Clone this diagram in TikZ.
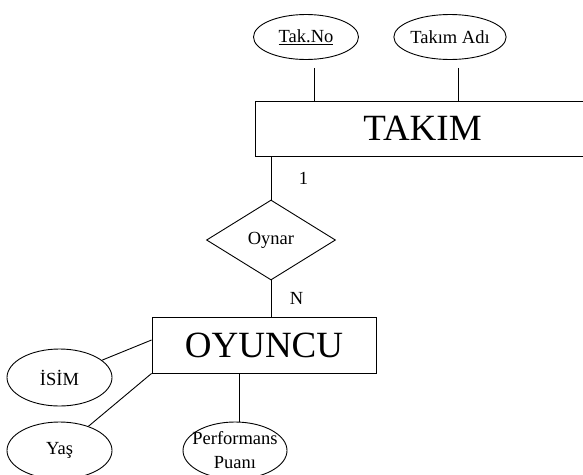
\documentclass[tikz,border=0pt]{standalone}
\usepackage{fontspec}
\setmainfont{Liberation Serif}
\usepackage{tikz}
\usetikzlibrary{shapes.geometric,calc}

\tikzset{
    entity/.style={draw, rectangle, inner sep=0pt, font=\fontsize{37}{42}\selectfont},
    attrib/.style={draw, ellipse, inner sep=0pt, minimum width=105pt, minimum height=45pt,
        align=center, font=\fontsize{18.5}{24}\selectfont},
    relation/.style={draw, diamond, inner sep=0pt, minimum width=129pt, minimum height=80pt,
        font=\fontsize{18.5}{24}\selectfont},
    card/.style={font=\fontsize{18.5}{24}\selectfont}
}

\begin{document}
\begin{tikzpicture}[x=1pt, y=-1pt, line width=0.9pt]
        \useasboundingbox (0,0) rectangle (583,474);

        % draw entities
        \node[entity, minimum width=335pt, minimum height=55pt] (takim) at (422.5,128.5) {TAKIM};
        \node[entity, minimum width=224pt, minimum height=56pt] (oyuncu) at (264,345) {OYUNCU};

        % draw relation
        \node[relation] (oynar) at (271,240) {Oynar};

        % draw attributes
        \node[attrib] (takno) at (306,37) {\underline{Tak.No}};
        \node[attrib] (takadi) at (450,37) {Takım Adı};
        \node[attrib, minimum height=57pt] (isim) at (59.5,377.5) {İSİM};
        \node[attrib, minimum height=57pt] (yas) at (59.5,450.5) {Yaş};
        % text is wider than its ellipse
        \node[attrib, minimum width=104pt, minimum height=57pt] (perf) at (235,450.5) {};
        \node[align=center, card] (perftext) at (perf.center) {Performans\\Puanı};

        % draw attribute lines
        \foreach \a in {takno,takadi}
            \draw ($(\a.south)+(8,8)$) -- ($(\a.south |- takim.north)+(8,0)$);
        \draw (isim) -- ([yshift=5pt]oyuncu.west);
        \draw (yas) -- (oyuncu.south west);
        \draw ($(perf.north)+(4,0)$) -- ($(perf.north |- oyuncu.south)+(4,0)$);

        % draw relation lines
        \draw (takim.south -| oynar.north) -- (oynar.north) node[card, midway, right=24pt] {1};
        \draw (oynar.south) -- (oynar.south |- oyuncu.north) node[card, midway, right=15pt] {N};
\end{tikzpicture}
\end{document}
